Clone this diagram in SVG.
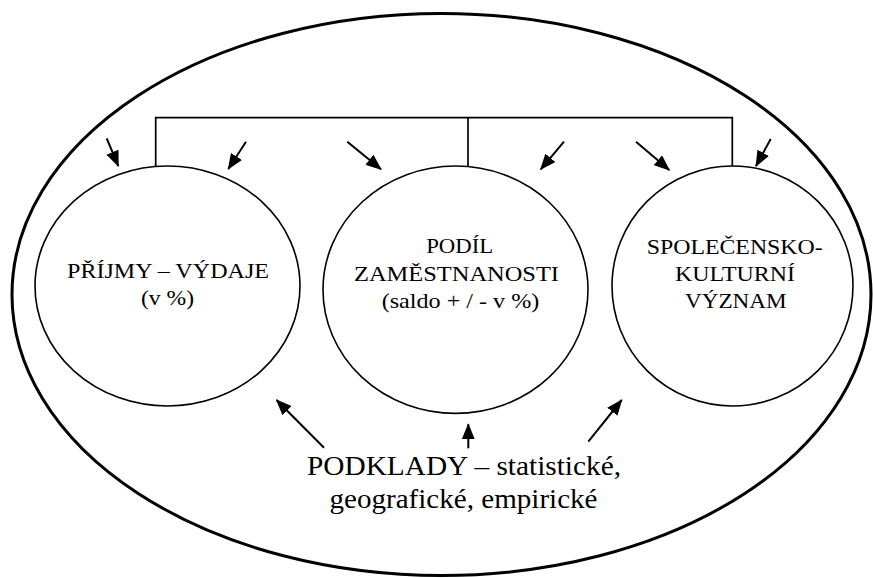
<svg xmlns="http://www.w3.org/2000/svg" width="873" height="578" viewBox="0 0 873 578">
<style>
.node{fill:none;stroke:#000;stroke-width:1.6}
.outer{fill:none;stroke:#000;stroke-width:3}
.bracket{fill:none;stroke:#000;stroke-width:1.7}
.arr{stroke:#000;stroke-width:2;marker-end:url(#ah)}
.t{font-family:'Liberation Serif',serif;font-size:22px;fill:#000;text-anchor:middle}
.b{font-family:'Liberation Serif',serif;font-size:27px;fill:#000;text-anchor:middle}
</style>
<defs>
<marker id="ah" viewBox="0 0 16 13" refX="15" refY="6.5" markerWidth="16" markerHeight="13" markerUnits="userSpaceOnUse" orient="auto">
<path d="M0,0 L16,6.5 L0,13 z" fill="#000"/>
</marker>
</defs>
<rect width="873" height="578" fill="#fff"/>
<g id="outer">
<ellipse class="outer" cx="441.5" cy="294.5" rx="429.5" ry="281"/>
</g>
<g id="connectors">
<polyline class="bracket" points="155.7,166 155.7,117.7 732.3,117.7 732.3,166"/>
<line class="bracket" x1="468" y1="117.7" x2="468" y2="166"/>
<line class="arr" x1="106.7" y1="138.3" x2="118.3" y2="166"/>
<line class="arr" x1="246" y1="141.7" x2="228.3" y2="169"/>
<line class="arr" x1="347.3" y1="141.7" x2="381" y2="169.3"/>
<line class="arr" x1="564" y1="141.7" x2="540.7" y2="169.3"/>
<line class="arr" x1="636" y1="141.7" x2="669.3" y2="170"/>
<line class="arr" x1="770.7" y1="139" x2="756" y2="166"/>
<line class="arr" x1="324" y1="447.7" x2="276.5" y2="400"/>
<line class="arr" x1="468.3" y1="448.3" x2="468.3" y2="424.3"/>
<line class="arr" x1="588.3" y1="441.7" x2="621.7" y2="400"/>
</g>
<g id="prijmy">
<ellipse class="node" cx="167.5" cy="286" rx="132.5" ry="120"/>
<text class="t" font-family="Liberation Serif" x="168" y="277.5" textLength="202" lengthAdjust="spacingAndGlyphs">PŘÍJMY – VÝDAJE</text>
<text class="t" font-family="Liberation Serif" x="167.5" y="305" textLength="53" lengthAdjust="spacingAndGlyphs">(v %)</text>
</g>
<g id="podil">
<ellipse class="node" cx="455.5" cy="289.7" rx="132.5" ry="123.7"/>
<text class="t" font-family="Liberation Serif" x="459.7" y="253.3" textLength="67" lengthAdjust="spacingAndGlyphs">PODÍL</text>
<text class="t" font-family="Liberation Serif" x="456.5" y="281" textLength="205" lengthAdjust="spacingAndGlyphs">ZAMĚSTNANOSTI</text>
<text class="t" font-family="Liberation Serif" x="460.5" y="307.5" textLength="157.7" lengthAdjust="spacingAndGlyphs">(saldo + / - v %)</text>
</g>
<g id="spolecensko">
<ellipse class="node" cx="732.5" cy="286" rx="120.5" ry="120"/>
<text class="t" font-family="Liberation Serif" x="734.7" y="254" textLength="176" lengthAdjust="spacingAndGlyphs">SPOLEČENSKO-</text>
<text class="t" font-family="Liberation Serif" x="735" y="281" textLength="120" lengthAdjust="spacingAndGlyphs">KULTURNÍ</text>
<text class="t" font-family="Liberation Serif" x="735.8" y="308" textLength="101.7" lengthAdjust="spacingAndGlyphs">VÝZNAM</text>
</g>
<g id="podklady">
<text class="b" font-family="Liberation Serif" x="464" y="475" textLength="314" lengthAdjust="spacingAndGlyphs">PODKLADY – statistické,</text>
<text class="b" font-family="Liberation Serif" x="463.5" y="508" textLength="268" lengthAdjust="spacingAndGlyphs">geografické, empirické</text>
</g>
</svg>
